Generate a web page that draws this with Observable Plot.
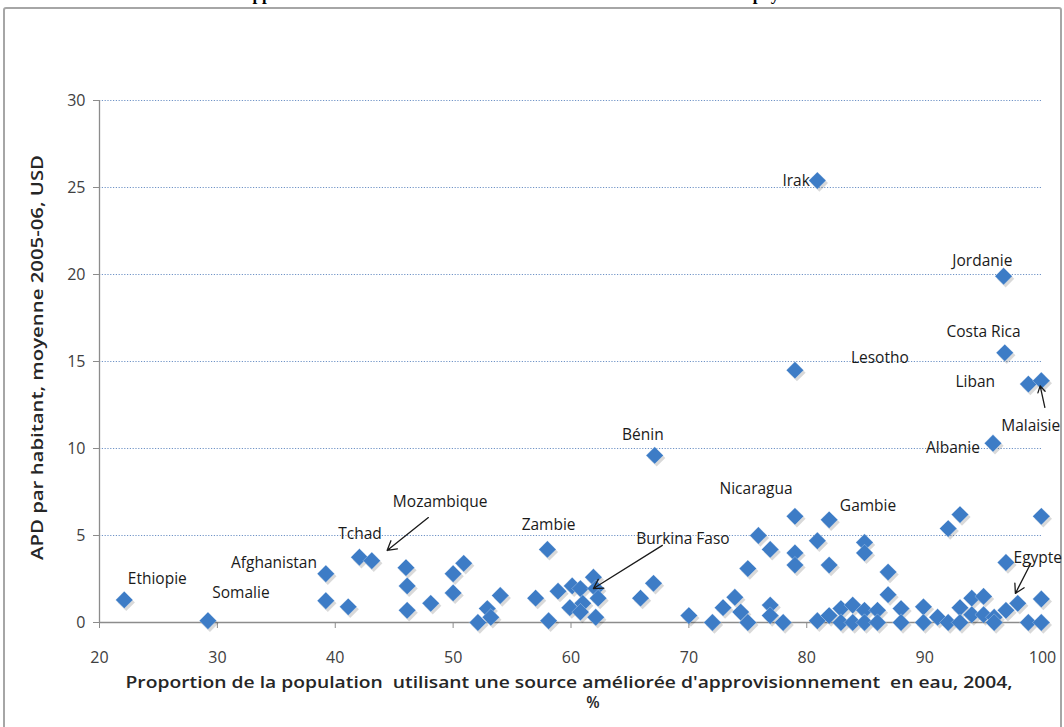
<!DOCTYPE html>
<html>
<head>
<meta charset="utf-8">
<script src="https://cdn.jsdelivr.net/npm/d3@7"></script>
<script src="https://cdn.jsdelivr.net/npm/@observablehq/plot@0.6"></script>
<style>
  html, body { margin: 0; padding: 0; background: #fff; }
  #wrap { position: relative; width: 1064px; height: 727px; overflow: hidden; background: #fff; }
  #frame { position: absolute; left: 3px; top: 7px; width: 1055px; height: 740px; border: 2px solid #a6a6a6; border-radius: 3px; }
  #title { position: absolute; left: 0; width: 1064px; top: -14px; text-align: center;
           font-family: "Liberation Serif", "DejaVu Serif", serif; font-weight: bold; font-size: 17px; line-height: 17px; color: #000; white-space: nowrap; }
  #chart { position: absolute; left: 0; top: 0; }
</style>
</head>
<body>
<div id="wrap">
  <div id="frame"></div>
  <div id="title">L'APD à l'approvisionnement en eau et l'accès à l'eau dans les PMA et les autres pays à faible revenu</div>
  <div id="chart"></div>
</div>
<script>
// Water access (% of population with improved water source, 2004)
const waterAccess = [
  22.1, 29.2, 39.2, 39.2, 41.1, 42.05, 43.1, 46.0, 46.1, 46.1, 48.1, 50.0, 50.9, 50.0, 52.1, 52.9, 53.2, 54.0, 57.0, 58.0, 58.1,
  58.9, 60.1, 60.8, 61.9, 62.1, 59.9, 61.0, 62.3, 60.8, 62.1, 65.9, 67.0, 67.1,
  70.0, 72.0, 72.9, 73.9, 74.4, 75.0, 75.0, 75.9, 76.9, 76.9, 76.9, 78.0,
  79.0, 79.0, 79.0, 79.0, 80.9, 80.9, 81.9, 81.9, 80.9, 81.9, 82.9, 83.9, 84.9, 86.0, 82.9, 83.9, 84.9, 86.0,
  84.9, 84.9, 86.9, 86.9, 88.0, 88.0, 89.9, 89.9, 91.1, 92.0, 92.0, 93.0, 93.0, 93.0, 94.0, 95.0, 94.0, 95.0,
  95.9, 95.9, 96.9, 96.9, 97.9, 98.8, 99.9, 99.9, 99.9, 96.7, 96.8, 98.8, 99.9, 95.8
];
// ODA per capita, average 2005-06, USD
const odaPerCapita = [
  1.3, 0.1, 2.8, 1.25, 0.9, 3.75, 3.55, 3.15, 2.1, 0.7, 1.1, 2.8, 3.4, 1.7, 0.0, 0.8, 0.3, 1.55, 1.4, 4.2, 0.1,
  1.8, 2.1, 1.95, 2.6, 1.95, 0.85, 1.1, 1.4, 0.6, 0.3, 1.4, 2.25, 9.6,
  0.4, 0.0, 0.85, 1.45, 0.6, 0.0, 3.1, 5.0, 4.2, 1.0, 0.4, 0.0,
  6.1, 4.0, 3.3, 14.5, 25.4, 4.7, 5.9, 3.3, 0.1, 0.4, 0.8, 1.0, 0.7, 0.7, 0.0, 0.0, 0.0, 0.0,
  4.6, 4.0, 2.9, 1.6, 0.8, 0.0, 0.9, 0.0, 0.3, 0.0, 5.4, 6.2, 0.85, 0.0, 1.4, 1.5, 0.45, 0.45,
  0.3, 0.0, 0.7, 3.45, 1.1, 0.0, 1.35, 0.0, 6.1, 19.9, 15.5, 13.7, 13.9, 10.3
];

// Country labels (placed in data units)
const labelNames = ["Irak", "Jordanie", "Costa Rica", "Lesotho", "Liban", "Malaisie", "Albanie", "Bénin", "Nicaragua",
  "Gambie", "Zambie", "Burkina Faso", "Mozambique", "Tchad", "Afghanistan", "Ethiopie", "Somalie", "Egypte"];
const labelX = [79.1, 94.9, 95.0, 86.2, 94.3, 99.0, 92.4, 66.1, 75.7, 85.2, 58.1, 69.5, 48.9, 42.1, 34.8, 24.9, 32.0, 99.6];
const labelY = [25.4, 20.8, 16.7, 15.2, 13.8, 11.3, 10.0, 10.75, 7.65, 6.7, 5.6, 4.8, 6.9, 5.1, 3.4, 2.5, 1.67, 3.7];

// Annotation arrows (from label toward point)
const arrowFromX = [47.9, 67.75, 99.0, 100.2];
const arrowFromY = [6.03, 4.43, 3.39, 12.36];
const arrowToX = [44.4, 61.9, 97.7, 99.8];
const arrowToY = [4.14, 1.95, 1.67, 13.6];

const xTicks = [20, 30, 40, 50, 60, 70, 80, 90, 100];
const yTicks = [0, 5, 10, 15, 20, 25, 30];

const yTitle = "APD par habitant, moyenne 2005-06, USD";
const xTitle = "Proportion de la population  utilisant une source améliorée d'approvisionnement  en eau, 2004,";
const xTitle2 = "%";

const points = waterAccess.map((x, i) => ({x, y: odaPerCapita[i]}));
const labels = labelNames.map((name, i) => ({name, x: labelX[i], y: labelY[i], anchor: name === "Irak" ? "end" : "middle"}));
const arrows = arrowFromX.map((x1, i) => ({x1, y1: arrowFromY[i], x2: arrowToX[i], y2: arrowToY[i]}));

const font = "'Open Sans', Lato, sans-serif";

const chart = Plot.plot({
  width: 1064,
  height: 727,
  marginLeft: 99,
  marginRight: 22,
  marginTop: 100,
  marginBottom: 105,
  style: {fontFamily: font, background: "transparent", overflow: "visible"},
  x: {domain: [20, 100]},
  y: {domain: [0, 30]},
  marks: [
    Plot.gridY(yTicks.filter(d => d > 0), {stroke: "#6f93c6", strokeOpacity: 1, strokeWidth: 1, strokeDasharray: "1.2,1.6"}),
    Plot.ruleY([0], {stroke: "#8c8c8c", strokeWidth: 1.3}),
    Plot.ruleX([20], {stroke: "#8c8c8c", strokeWidth: 1.3}),
    Plot.axisY({ticks: yTicks, tickSize: 6, tickPadding: 8, stroke: "#8c8c8c", fill: "#404040", fontSize: 16, label: null, tickFormat: d => String(d)}),
    Plot.axisX({ticks: xTicks, tickSize: 6, stroke: "#8c8c8c", label: null, tickFormat: () => ""}),
    Plot.text(xTicks, {x: d => d, frameAnchor: "bottom", lineAnchor: "middle", textAnchor: "middle", dy: 35, fontSize: 16, fill: "#404040"}),
    Plot.text([yTitle], {frameAnchor: "left", textAnchor: "middle", dx: -61, dy: -4, rotate: -90, fontSize: 15.5, fontWeight: 600, fill: "#262626"}),
    Plot.text([xTitle], {frameAnchor: "bottom", textAnchor: "middle", lineAnchor: "middle", dy: 61, dx: -2, fontSize: 15.5, fontWeight: 600, fill: "#262626"}),
    Plot.text([xTitle2], {frameAnchor: "bottom", textAnchor: "middle", lineAnchor: "middle", dy: 81, dx: 22, fontSize: 15.5, fontWeight: 600, fill: "#262626"}),
    // shadows
    Plot.dot(points, {x: "x", y: "y", symbol: "diamond2", r: 7.8, fill: "#000", fillOpacity: 0.15, dx: 2, dy: 2.5, stroke: null}),
    Plot.dot(points, {x: "x", y: "y", symbol: "diamond2", r: 7.8, fill: "#3d7cc6", stroke: "#ffffff", strokeOpacity: 0.35, strokeWidth: 0.8}),
    Plot.arrow(arrows, {x1: "x1", y1: "y1", x2: "x2", y2: "y2", stroke: "#1a1a1a", strokeWidth: 1.3, headLength: 12, bend: false}),
    Plot.text(labels, {x: "x", y: "y", text: "name", textAnchor: "anchor", fontSize: 15.5, fill: "#1a1a1a", stroke: null})
  ]
});
// stretch axis titles to the reference's text lengths
chart.querySelectorAll("text").forEach(t => {
  if (t.textContent === xTitle) { t.setAttribute("textLength", "887"); t.setAttribute("lengthAdjust", "spacingAndGlyphs"); }
  if (t.textContent === yTitle) { t.setAttribute("textLength", "405"); t.setAttribute("lengthAdjust", "spacingAndGlyphs"); }
});
document.getElementById("chart").appendChild(chart);
</script>
</body>
</html>
